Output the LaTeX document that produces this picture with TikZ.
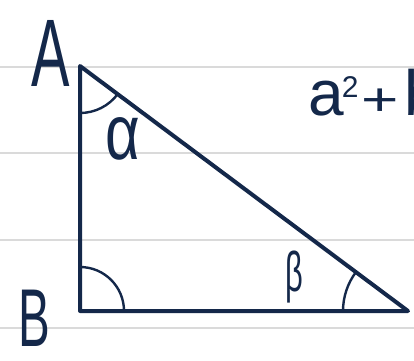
\documentclass[tikz,border=0pt]{standalone}
\usepackage{fontspec}
\setmainfont{Liberation Sans}
\definecolor{ink}{HTML}{14284A}
\definecolor{rule}{HTML}{DADADA}
\tikzset{
  tri/.style={draw=ink, line width=4pt, line join=round, line cap=round},
  angarc/.style={draw=ink, line width=2.4pt},
  ruleline/.style={draw=rule, line width=1.8pt},
  lab/.style={text=ink, inner sep=0pt, anchor=center}
}
\begin{document}
\begin{tikzpicture}[x=1pt,y=-1pt]
\useasboundingbox (0,0) rectangle (414,360);
\clip (0,0) rectangle (414,360);
\fill[white] (0,0) rectangle (414,360);
% ruled paper lines
\coordinate (r1l) at (0,67);  \coordinate (r1r) at (414,67);
\coordinate (r2l) at (0,153); \coordinate (r2r) at (414,153);
\coordinate (r3l) at (0,240); \coordinate (r3r) at (414,240);
\coordinate (r4l) at (0,328); \coordinate (r4r) at (414,328);
\draw[ruleline] (r1l) -- (r1r);
\draw[ruleline] (r2l) -- (r2r);
\draw[ruleline] (r3l) -- (r3r);
\draw[ruleline] (r4l) -- (r4r);
% triangle
\coordinate (A) at (80,66);
\coordinate (B) at (80,311);
\coordinate (C) at (408,311);
\draw[tri] (A) -- (B) -- (C) -- cycle;
% angle arcs
\draw[angarc] (A) ++(90:47) arc[start angle=90, end angle=36.8, radius=47];
\draw[angarc] (B) ++(-90:44) arc[start angle=-90, end angle=0, radius=44];
\draw[angarc] (C) ++(180:65) arc[start angle=180, end angle=216.8, radius=65];
% labels
\node[lab, font=\fontsize{96}{96}\selectfont, xscale=0.6] (lA) at (51,53) {A};
\node[lab, font=\fontsize{82}{82}\selectfont, xscale=0.58] (lB) at (34,318) {B};
\node[lab, font=\fontsize{60}{60}\selectfont, yscale=1.3] (lal) at (123,139) {α};
\node[lab, font=\fontsize{56}{56}\selectfont, xscale=0.55] (lbe) at (294,277) {β};
\node[lab, font=\fontsize{64}{64}\selectfont, anchor=base west] (lsum) at (308,115)
  {a\kern-2pt\raisebox{18pt}{\fontsize{30}{30}\selectfont 2}\kern3pt\scalebox{1}[0.72]{+}\kern6pt b};
\end{tikzpicture}
\end{document}
